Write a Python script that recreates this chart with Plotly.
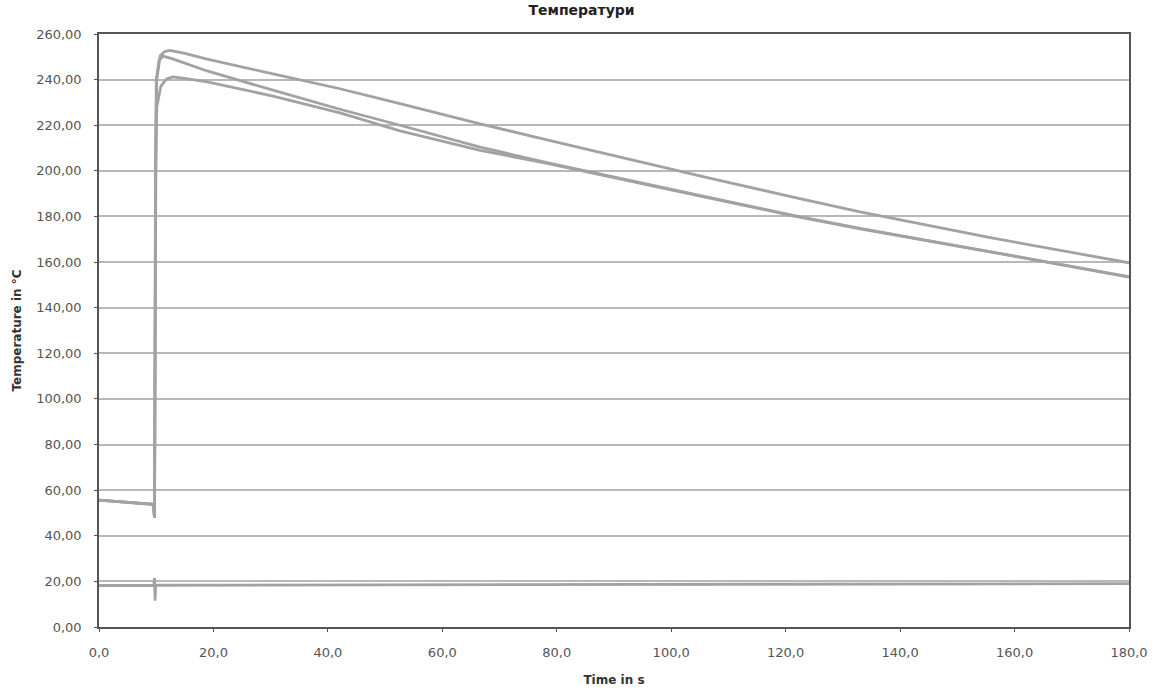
import plotly.graph_objects as go

# --- data ---
t_top = [0, 5, 9.5, 9.7, 9.8, 9.9, 10.1, 10.7, 11.5, 12.4, 15, 18.9, 30.4, 42.1, 52.6, 66.6, 78.3, 94.5, 106.3, 121.3, 133.0, 156.2, 180.0]
T_top = [55.6, 54.7, 53.8, 48.0, 150.0, 215.0, 240.0, 250.5, 252.3, 252.8, 251.5, 249.0, 242.5, 236.0, 229.5, 220.6, 213.6, 204.0, 197.0, 188.5, 182.0, 170.5, 159.7]

t_mid = [0, 5, 9.5, 9.7, 9.8, 9.9, 10.0, 10.5, 11.2, 13.0, 18.9, 30.4, 42.1, 52.6, 66.6, 78.3, 94.5, 106.3, 121.3, 133.0, 156.2, 180.0]
T_mid = [55.6, 54.7, 53.8, 48.0, 150.0, 215.0, 240.0, 248.5, 250.3, 249.0, 243.8, 235.4, 227.0, 220.0, 210.4, 203.6, 195.0, 188.5, 180.5, 174.8, 164.5, 153.6]

t_low = [0, 5, 9.5, 9.7, 9.8, 9.9, 10.1, 10.8, 11.8, 12.9, 15, 18.9, 30.4, 42.1, 52.6, 66.6, 78.3, 94.5, 106.3, 121.3, 133.0, 156.2, 180.0]
T_low = [55.6, 54.7, 53.8, 48.0, 150.0, 200.0, 228.0, 237.0, 240.3, 241.2, 240.5, 239.0, 232.8, 225.4, 217.5, 209.0, 203.3, 194.8, 188.3, 180.3, 174.6, 164.3, 153.4]

t_amb = [0, 9.6, 9.7, 9.8, 9.9, 60, 120, 180]
T_amb = [18.2, 18.3, 21.5, 11.5, 18.3, 18.5, 18.8, 19.0]

y_ticks = [0, 20, 40, 60, 80, 100, 120, 140, 160, 180, 200, 220, 240, 260]
x_ticks = [0, 20, 40, 60, 80, 100, 120, 140, 160, 180]

title_text = "Температури"
x_title = "Time in s"
y_title = "Temperature in °C"

line_col = "#a2a2a2"

fig = go.Figure()
for tt, TT in [(t_amb, T_amb), (t_low, T_low), (t_mid, T_mid), (t_top, T_top)]:
    fig.add_trace(go.Scatter(x=tt, y=TT, mode="lines",
                             line=dict(color=line_col, width=2.8),
                             showlegend=False, hoverinfo="skip"))

tick_fam = "DejaVu Sans, Arial, sans-serif"

fig.update_layout(
    width=1163, height=693,
    margin=dict(l=99, r=34, t=34, b=66),
    paper_bgcolor="white", plot_bgcolor="white",
    separators=", ",
    title=dict(text="<b>" + title_text + "</b>", x=0.5, xanchor="center",
               y=0.993, yanchor="top",
               font=dict(family=tick_fam, size=14, color="#222")),
    xaxis=dict(range=[0, 180], tickvals=x_ticks, tickformat=".1f",
               showgrid=False, zeroline=False, automargin=False,
               showline=True, linecolor="#555", linewidth=1.5, mirror=True,
               ticks="outside", ticklen=3, tickcolor="#555",
               ticklabelstandoff=10,
               tickfont=dict(family=tick_fam, size=13, color="#555"),
               title=dict(text="<b>" + x_title + "</b>", standoff=16,
                          font=dict(family=tick_fam, size=12, color="#333"))),
    yaxis=dict(range=[0, 260], tickvals=y_ticks, tickformat=".2f",
               showgrid=True, gridcolor="#b8b8b8", gridwidth=1.8,
               zeroline=False, automargin=False,
               showline=True, linecolor="#555", linewidth=1.5, mirror=True,
               ticks="outside", ticklen=3, tickcolor="#555",
               ticklabelstandoff=10,
               tickfont=dict(family=tick_fam, size=13, color="#555"),
               title=dict(text="<b>" + y_title + "</b>", standoff=12,
                          font=dict(family=tick_fam, size=12, color="#333"))),
)

fig.write_html("out.html")
